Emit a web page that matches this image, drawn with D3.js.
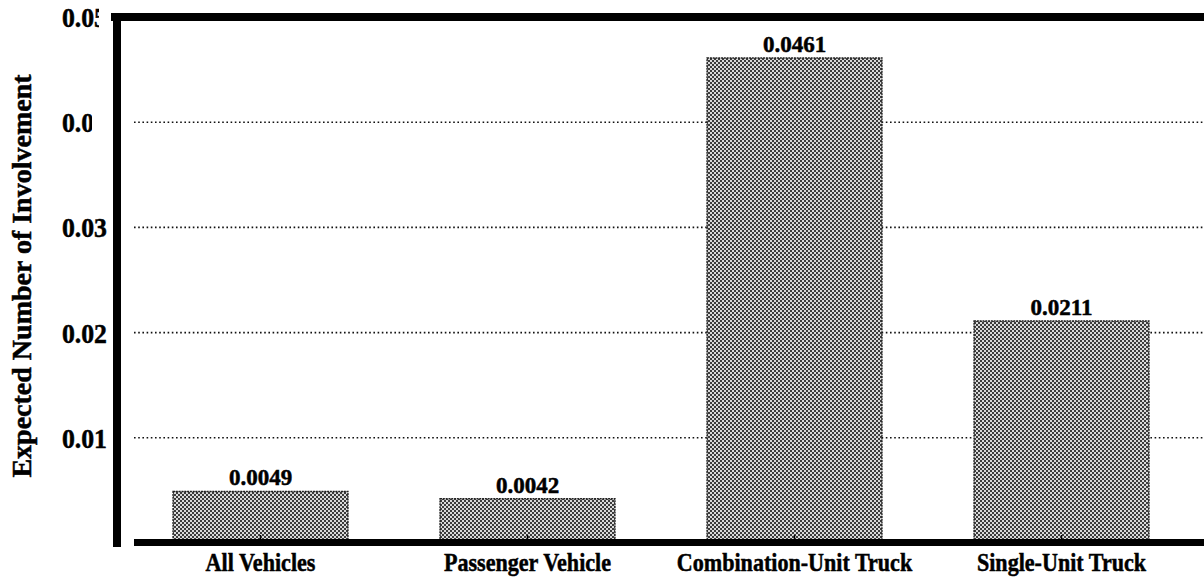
<!DOCTYPE html>
<html>
<head>
<meta charset="utf-8">
<script src="https://cdn.jsdelivr.net/npm/d3@7"></script>
<style>
  html, body { margin: 0; padding: 0; background: #fff; }
  svg { display: block; }
  text { font-family: "Liberation Serif", "Times New Roman", serif; font-weight: bold; fill: #000; stroke: #000; stroke-width: 0.5px; }
</style>
</head>
<body>
<script>
// ---- data ----
const categories = ["All Vehicles", "Passenger Vehicle", "Combination-Unit Truck", "Single-Unit Truck"];
const values = [0.0049, 0.0042, 0.0461, 0.0211];
const valueLabels = ["0.0049", "0.0042", "0.0461", "0.0211"];
const yTicks = [0.01, 0.02, 0.03, 0.04, 0.05];
const yTickLabels = ["0.01", "0.02", "0.03", "0.04", "0.05"];
const gridTicks = [0.01, 0.02, 0.03, 0.04];
const yTitle = "Expected Number of Involvement";

const W = 1204, H = 579;
const svg = d3.select("body").append("svg").attr("width", W).attr("height", H);

const y = d3.scaleLinear().domain([0, 0.05]).range([543, 17]);
const x = d3.scaleBand().domain(categories).range([127, 1195]).paddingInner(0.345).paddingOuter(0.1725);

// pattern fill for bars
const defs = svg.append("defs");
const pat = defs.append("pattern").attr("id", "dots").attr("patternUnits", "userSpaceOnUse")
  .attr("width", 4).attr("height", 4);
pat.append("rect").attr("width", 4).attr("height", 4).attr("fill", "#dadada");
pat.append("rect").attr("x", 0).attr("y", 0).attr("width", 2).attr("height", 2).attr("fill", "#3c3c3c");
pat.append("rect").attr("x", 2).attr("y", 2).attr("width", 2).attr("height", 2).attr("fill", "#3c3c3c");

// gridlines
svg.append("g").selectAll("line").data(gridTicks).join("line")
  .attr("x1", 134).attr("x2", W)
  .attr("y1", d => y(d)).attr("y2", d => y(d))
  .attr("stroke", "#111").attr("stroke-width", 1.6).attr("stroke-dasharray", "1.6,2.6");

// bars
svg.append("g").selectAll("rect").data(values).join("rect")
  .attr("x", (d, i) => x(categories[i]))
  .attr("width", x.bandwidth())
  .attr("y", d => y(d))
  .attr("height", d => y(0) - 3 - y(d))
  .attr("fill", "url(#dots)")
  .attr("stroke", "#222").attr("stroke-width", 1.4).attr("stroke-dasharray", "2,0.8");

// value labels
svg.append("g").selectAll("text").data(values).join("text")
  .attr("transform", (d, i) => `translate(${x(categories[i]) + x.bandwidth() / 2},${y(d) - 6})`)
  .attr("text-anchor", "middle")
  .style("font-size", "23px")
  .text((d, i) => valueLabels[i]);

// x axis (ticks + labels)
const xAxis = d3.axisBottom(x).tickSize(-8).tickPadding(10);
const gx = svg.append("g").attr("transform", `translate(0,${y(0)})`).call(xAxis);
gx.select(".domain").remove();
gx.selectAll(".tick line").attr("stroke", "#000").attr("stroke-width", 1.5);
gx.selectAll(".tick text").style("font-size", "26px").attr("fill", "#000")
  .attr("transform", "scale(0.85,1)");

// y axis labels
const yAxis = d3.axisLeft(y).tickValues(yTicks).tickFormat((d, i) => yTickLabels[i]).tickSize(0).tickPadding(0);
const gy = svg.append("g").attr("transform", "translate(107,0)").call(yAxis);
gy.select(".domain").remove();
gy.selectAll(".tick text").style("font-size", "28px").attr("fill", "#000").attr("dy", "0.34em")
  .attr("transform", "scale(0.92,1)");
// truncated labels as in the source scan
gy.selectAll(".tick").each(function(d) {
  if (d === 0.05 || d === 0.04) {
    const lim = d === 0.05 ? 99 : 92;
    const id = "clipT" + Math.round(d * 100);
    defs.append("clipPath").attr("id", id).append("rect")
      .attr("x", -200).attr("y", -30).attr("width", 200 - (107 - lim)).attr("height", 60);
    d3.select(this).attr("clip-path", `url(#${id})`);
  }
});

// frame lines
svg.append("line").attr("x1", 111).attr("x2", W).attr("y1", y(0.05)).attr("y2", y(0.05))
  .attr("stroke", "#000").attr("stroke-width", 8);
svg.append("line").attr("x1", 117).attr("x2", 117).attr("y1", y(0.05) - 4).attr("y2", y(0) + 4)
  .attr("stroke", "#000").attr("stroke-width", 8);
svg.append("line").attr("x1", 134).attr("x2", W).attr("y1", y(0) - 0.5).attr("y2", y(0) - 0.5)
  .attr("stroke", "#000").attr("stroke-width", 7);

// y title
svg.append("text")
  .attr("transform", `translate(31,${(y(0) + y(0.05)) / 2 - 4}) rotate(-90)`)
  .attr("text-anchor", "middle")
  .style("font-size", "28px")
  .text(yTitle);
</script>
</body>
</html>
